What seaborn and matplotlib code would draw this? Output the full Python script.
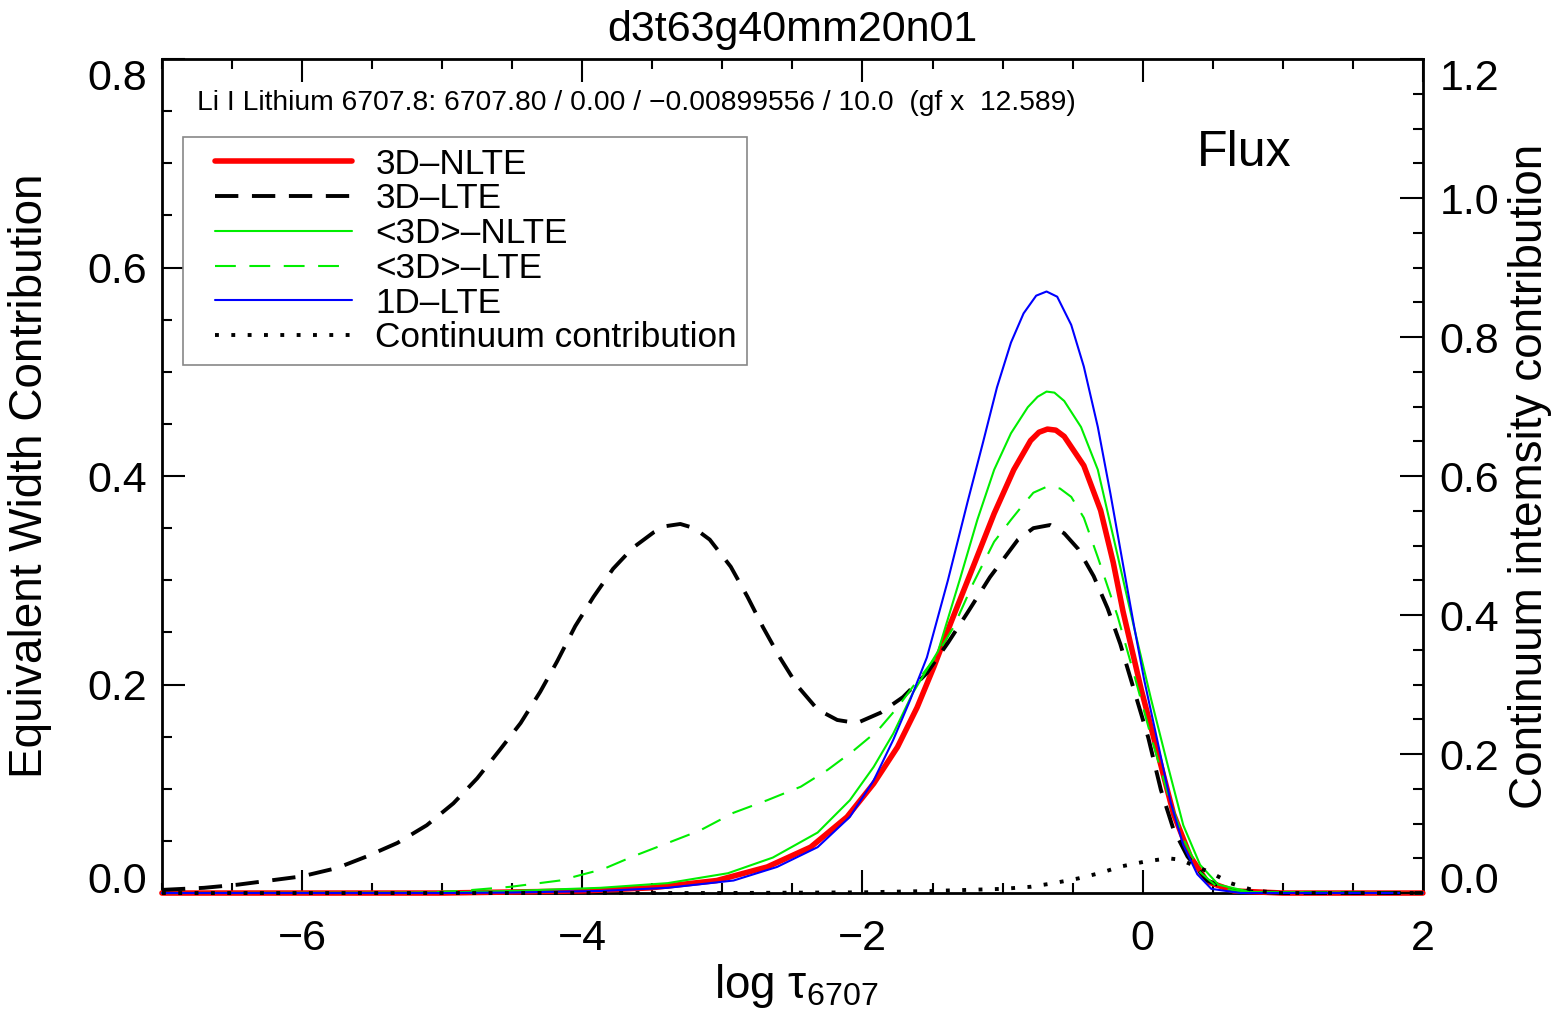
import matplotlib
matplotlib.use("Agg")
import matplotlib.pyplot as plt
import seaborn as sns
from matplotlib.ticker import MultipleLocator, FormatStrFormatter, FixedLocator
from matplotlib.legend_handler import HandlerLine2D
from matplotlib.lines import Line2D

# ---------------- data ----------------
title_text = "d3t63g40mm20n01"
line_info = "Li I Lithium 6707.8: 6707.80 / 0.00 / \u22120.00899556 / 10.0  (gf x  12.589)"

x_3d_nlte = [-7.0, -5.0, -4.5, -4.0, -3.51, -3.04, -2.68, -2.37, -2.11, -1.92, -1.75, -1.61, -1.49,
             -1.37, -1.21, -1.06, -0.92, -0.80, -0.74, -0.68, -0.62, -0.56, -0.42, -0.30, -0.21,
             -0.14, -0.01, 0.11, 0.22, 0.34, 0.46, 0.65, 1.0, 2.0]
y_3d_nlte = [0.0, 0.0, 0.001, 0.002, 0.005, 0.012, 0.025, 0.044, 0.073, 0.105, 0.140, 0.178, 0.217,
             0.259, 0.313, 0.364, 0.406, 0.434, 0.442, 0.445, 0.444, 0.438, 0.410, 0.367, 0.317,
             0.270, 0.195, 0.133, 0.076, 0.035, 0.011, 0.002, 0.0, 0.0]

x_3d_lte = [-7.0, -6.7, -6.46, -6.23, -6.0, -5.75, -5.54, -5.32, -5.11, -4.92, -4.75, -4.59, -4.44,
            -4.3, -4.18, -4.05, -3.92, -3.78, -3.64, -3.49, -3.4, -3.3, -3.2, -3.09, -2.94, -2.82,
            -2.71, -2.59, -2.46, -2.32, -2.18, -2.04, -1.87, -1.71, -1.54, -1.39, -1.25, -1.09,
            -0.89, -0.78, -0.66, -0.56, -0.46, -0.35, -0.25, -0.16, -0.06, 0.04, 0.13, 0.22, 0.32,
            0.46, 0.65, 1.0, 2.0]
y_3d_lte = [0.003, 0.005, 0.008, 0.012, 0.016, 0.024, 0.035, 0.048, 0.065, 0.086, 0.110, 0.137, 0.163,
            0.193, 0.222, 0.256, 0.284, 0.311, 0.331, 0.346, 0.352, 0.354, 0.350, 0.339, 0.313, 0.284,
            0.255, 0.226, 0.198, 0.176, 0.166, 0.163, 0.173, 0.188, 0.211, 0.240, 0.269, 0.303,
            0.339, 0.350, 0.353, 0.345, 0.330, 0.304, 0.273, 0.239, 0.194, 0.149, 0.099, 0.061, 0.035,
            0.012, 0.002, 0.0, 0.0]

x_avg_nlte = [-7.0, -5.0, -4.5, -3.87, -3.39, -2.96, -2.64, -2.32, -2.09, -1.92, -1.78, -1.64, -1.46,
              -1.30, -1.18, -1.06, -0.94, -0.82, -0.75, -0.686, -0.63, -0.56, -0.44, -0.32, -0.21,
              -0.06, 0.06, 0.18, 0.29, 0.41, 0.54, 0.77, 2.0]
y_avg_nlte = [0.0, 0.0005, 0.002, 0.005, 0.0095, 0.019, 0.034, 0.058, 0.089, 0.121, 0.153, 0.192, 0.232,
              0.303, 0.358, 0.406, 0.441, 0.466, 0.476, 0.481, 0.480, 0.472, 0.447, 0.406, 0.342,
              0.254, 0.186, 0.122, 0.065, 0.027, 0.008, 0.001, 0.0]

x_avg_lte = [-7.0, -5.2, -4.87, -4.51, -4.16, -3.85, -3.64, -3.39, -3.16, -2.92, -2.68, -2.44, -2.25,
             -2.06, -1.89, -1.75, -1.64, -1.49, -1.35, -1.21, -1.06, -0.94, -0.85, -0.78, -0.68,
             -0.59, -0.51, -0.42, -0.32, -0.18, -0.06, 0.06, 0.18, 0.29, 0.41, 0.54, 0.77, 2.0]
y_avg_lte = [0.0, 0.0, 0.002, 0.006, 0.012, 0.023, 0.035, 0.048, 0.060, 0.077, 0.089, 0.102, 0.118,
             0.137, 0.156, 0.178, 0.198, 0.224, 0.255, 0.297, 0.337, 0.358, 0.373, 0.384, 0.390,
             0.388, 0.380, 0.360, 0.322, 0.266, 0.209, 0.150, 0.095, 0.052, 0.020, 0.005, 0.0, 0.0]

x_1d_lte = [-7.0, -5.0, -4.5, -3.87, -3.39, -2.92, -2.61, -2.32, -2.09, -1.92, -1.78, -1.66, -1.54,
            -1.39, -1.25, -1.14, -1.04, -0.94, -0.85, -0.76, -0.686, -0.61, -0.51, -0.42, -0.32,
            -0.23, -0.14, -0.06, 0.01, 0.11, 0.20, 0.29, 0.39, 0.49, 0.70, 2.0]
y_1d_lte = [0.0, 0.0, 0.0005, 0.002, 0.005, 0.012, 0.025, 0.044, 0.073, 0.108, 0.147, 0.185, 0.226,
            0.300, 0.375, 0.432, 0.485, 0.528, 0.556, 0.573, 0.577, 0.572, 0.545, 0.505, 0.447,
            0.383, 0.315, 0.255, 0.205, 0.143, 0.087, 0.046, 0.018, 0.004, 0.0, 0.0]

x_cont = [-7.0, -3.0, -2.0, -1.5, -1.0, -0.8, -0.64, -0.46, -0.3, -0.16, 0.01, 0.18, 0.27, 0.36,
          0.49, 0.63, 0.79, 0.96, 2.0]
y_cont = [0.0, 0.0, 0.001, 0.003, 0.006, 0.009, 0.014, 0.021, 0.029, 0.038, 0.045, 0.050, 0.048,
          0.040, 0.029, 0.014, 0.004, 0.0, 0.0]

labels = ["3D\u2013NLTE", "3D\u2013LTE", "<3D>\u2013NLTE", "<3D>\u2013LTE", "1D\u2013LTE",
          "Continuum contribution"]
left_ticks = [0.0, 0.2, 0.4, 0.6, 0.8]
right_ticks = [0.0, 0.2, 0.4, 0.6, 0.8, 1.0, 1.2]

# ---------------- style ----------------
sns.set_theme(style="ticks")
plt.rcParams["font.family"] = ["Liberation Sans", "DejaVu Sans"]
plt.rcParams["mathtext.fontset"] = "custom"
plt.rcParams["mathtext.rm"] = "Liberation Sans"
plt.rcParams["mathtext.it"] = "Liberation Sans:italic"
plt.rcParams["axes.unicode_minus"] = True
for k in ("text.color", "axes.labelcolor", "xtick.color", "ytick.color", "axes.edgecolor"):
    plt.rcParams[k] = "black"

fig = plt.figure(figsize=(15.6, 10.14), dpi=100)
fig.patch.set_facecolor("white")
ax = fig.add_axes([0.1038, 0.1193, 0.8083, 0.8225])
ax.set_facecolor("white")
ax2 = ax.twinx()

common = dict(ax=ax, clip_on=False, zorder=3)
sns.lineplot(x=x_3d_nlte, y=y_3d_nlte, color="#ff0000", lw=4.0, label=labels[0], **common)
sns.lineplot(x=x_3d_lte, y=y_3d_lte, color="black", lw=2.8, linestyle=(0, (6.0, 3.5)),
             label=labels[1], **common)
sns.lineplot(x=x_avg_nlte, y=y_avg_nlte, color="#00ee00", lw=1.5, label=labels[2], **common)
sns.lineplot(x=x_avg_lte, y=y_avg_lte, color="#00ee00", lw=1.5, linestyle=(0, (10, 6.5)),
             label=labels[3], **common)
sns.lineplot(x=x_1d_lte, y=y_1d_lte, color="#0000ff", lw=1.5, label=labels[4], **common)
sns.lineplot(x=x_cont, y=y_cont, ax=ax2, color="black", lw=2.8, linestyle=(0, (1.0, 3.2)),
             label=labels[5], clip_on=False, zorder=3)

for a in (ax, ax2):
    lg = a.get_legend()
    if lg is not None:
        lg.remove()

# axes limits / ticks
ax.set_xlim(-7, 2)
ax.set_ylim(0, 0.8)
ax2.set_ylim(0, 1.2)
ax.xaxis.set_major_locator(MultipleLocator(2))
ax.xaxis.set_minor_locator(MultipleLocator(0.5))
ax.yaxis.set_major_locator(FixedLocator(left_ticks))
ax.yaxis.set_minor_locator(MultipleLocator(0.05))
ax.yaxis.set_major_formatter(FormatStrFormatter("%.1f"))
ax2.yaxis.set_major_locator(FixedLocator(right_ticks))
ax2.yaxis.set_minor_locator(MultipleLocator(0.05))
ax2.yaxis.set_major_formatter(FormatStrFormatter("%.1f"))

tk = dict(direction="in", color="black", labelcolor="black")
ax.tick_params(axis="x", which="major", length=16.5, width=1.5, top=True, bottom=True,
               labelsize=31, pad=19, **tk)
ax.tick_params(axis="x", which="minor", length=7.5, width=1.5, top=True, bottom=True, **tk)
ax.tick_params(axis="y", which="major", length=16.5, width=1.5, left=True, right=False,
               labelsize=31, pad=11, **tk)
ax.tick_params(axis="y", which="minor", length=7.5, width=1.5, left=True, right=False, **tk)
ax2.tick_params(axis="y", which="major", length=16.5, width=1.5, right=True, left=False,
                labelsize=31, pad=12, **tk)
ax2.tick_params(axis="y", which="minor", length=7.5, width=1.5, right=True, left=False, **tk)

for s in ax.spines.values():
    s.set_visible(True)
    s.set_linewidth(2.0)
    s.set_color("black")
    s.set_zorder(2.5)
for s in ax2.spines.values():
    s.set_visible(False)

# IDL-like placement of the end labels
fig.canvas.draw()
lt = ax.yaxis.get_major_ticks()
lt[0].label1.set_va("baseline")
lt[-1].label1.set_va("top")
rt = ax2.yaxis.get_major_ticks()
rt[0].label2.set_va("baseline")
rt[-1].label2.set_va("top")

# labels
ax.set_title(title_text, fontsize=31, pad=13, color="black")
ax.set_xlabel(r"log $\mathrm{\tau}_{6707}$", fontsize=33, color="black")
ax.xaxis.set_label_coords(0.503, -0.083)
ax.set_ylabel("Equivalent Width Contribution", fontsize=33, color="black")
ax.yaxis.set_label_coords(-0.0872, 0.5)
ax2.set_ylabel("Continuum intemsity contribution", fontsize=33, color="black")
ax2.yaxis.set_label_coords(1.0674, 0.5)

ax.text(0.0278, 0.9388, line_info, transform=ax.transAxes, fontsize=20.3,
        ha="left", va="baseline", color="black")
ax2.text(0.8208, 0.8717, "Flux", transform=ax.transAxes, fontsize=36,
         ha="left", va="baseline", color="black")

# legend
handles = [l for l in ax.get_lines() if l.get_label() in labels] + \
          [l for l in ax2.get_lines() if l.get_label() in labels]
leg = ax2.legend(handles=handles, labels=[h.get_label() for h in handles],
                 loc="upper left", bbox_to_anchor=(0.0167, 0.9065), bbox_transform=ax.transAxes,
                 borderaxespad=0, fontsize=25.3, frameon=True, fancybox=False, shadow=False,
                 framealpha=1, edgecolor="#888888", borderpad=0.3, labelspacing=0.05,
                 handlelength=5.13, handletextpad=0.04, numpoints=2,
                 handler_map={Line2D: HandlerLine2D(marker_pad=0.62, numpoints=2)})
leg.get_frame().set_linewidth(1.2)
leg.set_zorder(10)
for t in leg.get_texts():
    t.set_color("black")

fig.savefig("out.png", dpi=100, facecolor="white")
